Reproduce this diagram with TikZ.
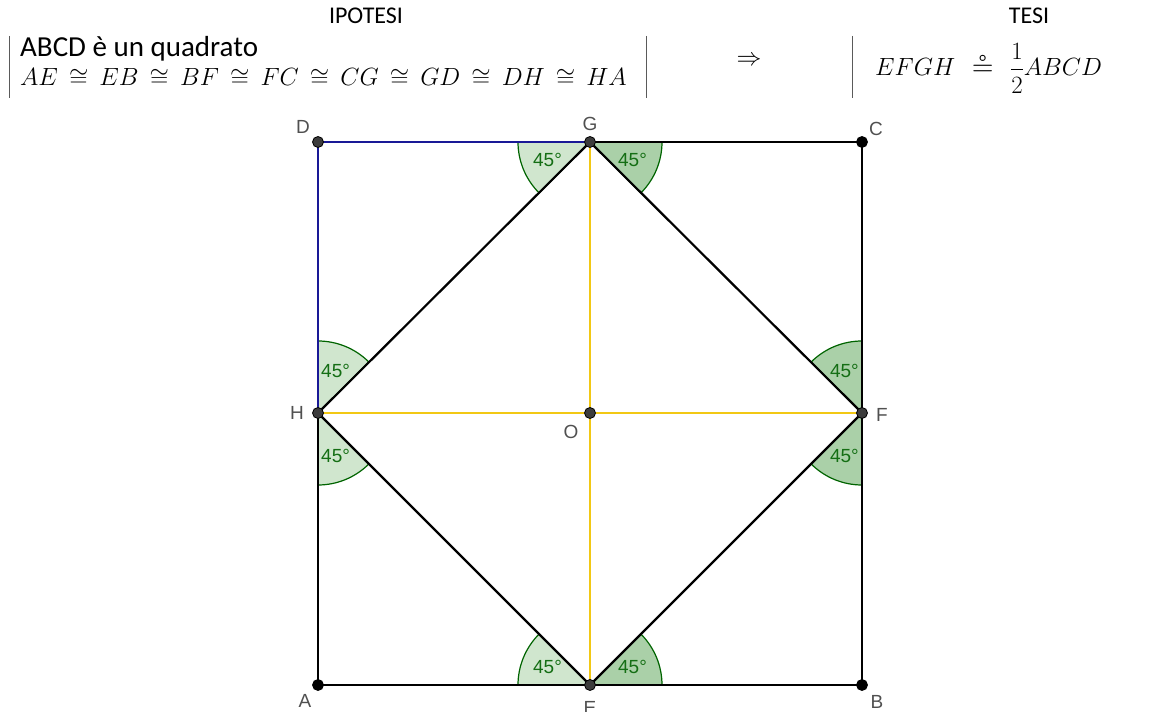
\documentclass[tikz,border=0pt]{standalone}
\usepackage{amssymb}
\usepackage{fontspec}
\setmainfont{Carlito}
\newfontfamily\arialfont{Liberation Sans}
\usetikzlibrary{positioning}
\definecolor{yel}{RGB}{242,200,20}
\definecolor{dblue}{RGB}{25,25,150}
\definecolor{anggreen}{RGB}{0,100,0}
\definecolor{angtext}{RGB}{20,110,20}
\definecolor{lightang}{RGB}{208,230,206}
\definecolor{darkang}{RGB}{170,208,168}
\definecolor{dotgray}{RGB}{60,60,60}
\definecolor{labgray}{RGB}{80,80,80}
\definecolor{bargray}{RGB}{90,90,90}
% angle sector at a vertex: #1 vertex, #2 start angle, #3 fill colour
\newcommand{\angmark}[3]{%
  \filldraw[fill=#3, draw=anggreen, line width=1.2pt] (#1) -- ++(#2:72) arc[start angle=#2, end angle=#2+45, radius=72] -- cycle;
  \node[anglabel] at ([shift={(#2+22.5:46)}]#1) {45°};}

\begin{document}
\begin{tikzpicture}[x=1pt, y=1pt,
    vtx/.style={circle, fill=dotgray, draw=black, line width=0.8pt, inner sep=0pt, minimum size=11pt},
    ptlabel/.style={font=\arialfont\fontsize{19}{19}\selectfont, text=labgray, inner sep=0pt},
    anglabel/.style={font=\arialfont\fontsize{19}{19}\selectfont, text=angtext, inner sep=0pt},
    side/.style={line width=2.2pt, line cap=round},
    hdr/.style={font=\fontsize{29}{34}\selectfont, inner sep=0pt},
    title/.style={font=\fontsize{24}{28}\selectfont, inner sep=0pt},
    hmath/.style={font=\fontsize{26}{30}\selectfont, inner sep=0pt},
    bar/.style={draw=bargray, line width=0.9pt}
]
\useasboundingbox (0,0) rectangle (1162,712);

% header
\node[title] (ipotesi) at (366,696) {IPOTESI};
\node[title] (tesi) at (1029,696) {TESI};
\node[hdr, anchor=base west] (quad) at (20,655) {ABCD è un quadrato};
\node[hmath, anchor=base west] (cong) at (20,626) {\thickmuskip=8mu $AE \cong EB \cong BF \cong FC \cong CG \cong GD \cong DH \cong HA$};
\node[hmath] (impl) at (749,651) {$\Rightarrow$};
\node[hmath, font=\fontsize{28}{32}\selectfont, anchor=base west] (equiv) at (875,636) {\thickmuskip=12mu $EFGH \circeq \displaystyle\frac{1}{2}ABCD$};
\draw[bar] (9,676) -- (9,614);
\draw[bar] (646,676) -- (646,614);
\draw[bar] (852,676) -- (852,614);

% points
\coordinate (A) at (318,27);
\coordinate (B) at (862,27);
\coordinate (C) at (862,570);
\coordinate (D) at (318,570);
\coordinate (E) at (590,27);
\coordinate (F) at (862,299);
\coordinate (G) at (590,570);
\coordinate (H) at (318,299);
\coordinate (O) at (590,299);

% angles
\angmark{G}{180}{lightang}
\angmark{G}{-45}{darkang}
\angmark{H}{45}{lightang}
\angmark{H}{270}{lightang}
\angmark{F}{90}{darkang}
\angmark{F}{225}{darkang}
\angmark{E}{135}{lightang}
\angmark{E}{0}{darkang}

% sides
\draw[side, yel] (G) -- (O) -- (E);
\draw[side, yel] (H) -- (O) -- (F);
\draw[side, dblue] (H) -- (D) -- (G);
\draw[side] (G) -- (C) -- (F) -- (B) -- (E) -- (A) -- (H);
\draw[side] (H) -- (G) -- (F) -- (E) -- cycle;

% dots and labels
\foreach \p in {D,E,F,G,H,O}
  \node[vtx] at (\p) {};
\foreach \p in {A,B,C}
  \node[vtx, fill=black] at (\p) {};
\node[ptlabel] (lD) at (303,585) {D};
\node[ptlabel] (lG) at (590,588) {G};
\node[ptlabel] (lC) at (876,583) {C};
\node[ptlabel] (lH) at (297,299) {H};
\node[ptlabel] (lO) at (571,280) {O};
\node[ptlabel] (lF) at (882,297) {F};
\node[ptlabel] (lA) at (305,11) {A};
\node[ptlabel] (lB) at (877,10) {B};
\node[ptlabel] (lE) at (590,4) {E};
\end{tikzpicture}
\end{document}
